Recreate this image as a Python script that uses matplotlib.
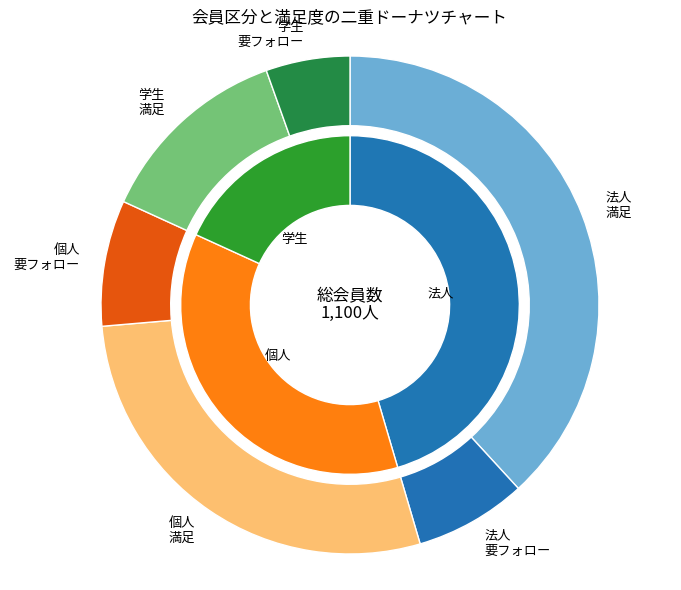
import matplotlib.pyplot as plt

plt.rcParams['font.family'] = ['Noto Sans CJK JP', 'DejaVu Sans']

# inner ring: member type
inner_labels = ['法人', '個人', '学生']
inner_values = [500, 400, 200]
inner_colors = ['#1f77b4', '#ff7f0e', '#2ca02c']

# outer ring: satisfaction per type
outer_labels = ['法人\n満足', '法人\n要フォロー', '個人\n満足', '個人\n要フォロー',
                '学生\n満足', '学生\n要フォロー']
outer_values = [420, 80, 310, 90, 140, 60]
outer_colors = ['#6baed6', '#2171b5', '#fdbf6f', '#e6550d', '#74c476', '#238b45']

total = sum(inner_values)

fig = plt.figure(figsize=(6.81, 5.9), dpi=100)
ax = fig.add_axes([0, 0, 1, 1])

ax.pie(outer_values, labels=outer_labels, colors=outer_colors,
       radius=1.0, startangle=90, counterclock=False,
       labeldistance=1.1, textprops={'fontsize': 9.5},
       wedgeprops=dict(width=0.28, edgecolor='white', linewidth=1))

ax.pie(inner_values, labels=inner_labels, colors=inner_colors,
       radius=0.68, startangle=90, counterclock=False,
       labeldistance=0.46, textprops={'fontsize': 9.5},
       wedgeprops=dict(width=0.28, edgecolor='white', linewidth=1))

ax.text(0, 0, f'総会員数\n{total:,}人', ha='center', va='center', fontsize=12,
        linespacing=1.0)

# place the pie like the reference (1 unit = 249 px)
ax.set_xlim(-350 / 249, 331 / 249)
ax.set_ylim(-285 / 249, 305 / 249)
ax.set_aspect('auto')
ax.axis('off')

fig.text(349 / 681, 1 - 18 / 590, '会員区分と満足度の二重ドーナツチャート',
         ha='center', va='center', fontsize=12)

fig.savefig('out.png', dpi=100)
